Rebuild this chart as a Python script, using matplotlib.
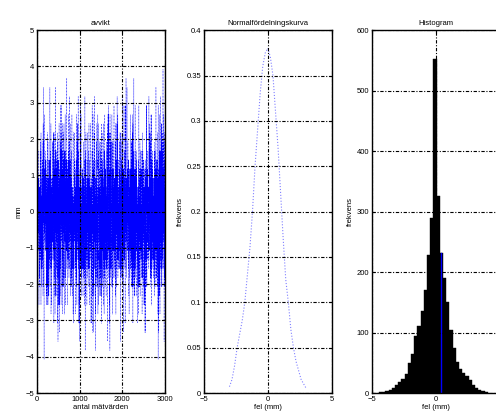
import matplotlib
matplotlib.use("Agg")
from matplotlib import pyplot as plt
import numpy as np

plt.rcParams['font.family'] = ['Liberation Sans', 'DejaVu Sans']

# histogram of the deviations: bin width 0.25, centres at -0.075 + 0.25*k
bin_width = 0.25
bin_centres = [-4.325, -4.075, -3.825, -3.575, -3.325, -3.075, -2.825, -2.575,
               -2.325, -2.075, -1.825, -1.575, -1.325, -1.075, -0.825, -0.575,
               -0.325, -0.075, 0.175, 0.425, 0.675, 0.925, 1.175, 1.425,
               1.675, 1.925, 2.175, 2.425, 2.675, 2.925, 3.175, 3.425,
               3.675, 3.925]
bin_counts = [1, 2, 3, 5, 8, 14, 18, 24,
              32, 50, 65, 95, 110, 135, 170, 228,
              289, 553, 326, 231, 190, 150, 105, 75,
              52, 40, 33, 28, 22, 14, 9, 5,
              3, 1]
marked_bin = 19   # bin drawn with the blue edge

# normal curve, read at 0.2 mm steps
curve_x = [-3.0, -2.8, -2.6, -2.4, -2.2, -2.0, -1.8, -1.6, -1.4, -1.2, -1.0,
           -0.8, -0.6, -0.4, -0.2, 0.0, 0.2, 0.4, 0.6, 0.8, 1.0,
           1.2, 1.4, 1.6, 1.8, 2.0, 2.2, 2.4, 2.6, 2.8, 3.0]
curve_y = [0.007, 0.015, 0.03, 0.05, 0.065, 0.08, 0.10, 0.13, 0.16, 0.20, 0.25,
           0.29, 0.33, 0.36, 0.375, 0.38, 0.37, 0.35, 0.31, 0.27, 0.22,
           0.17, 0.125, 0.10, 0.07, 0.05, 0.035, 0.025, 0.015, 0.01, 0.005]

# the series itself: every histogram value, spread over the measurement order
values = np.repeat(bin_centres, bin_counts)
n = len(values)
idx = np.arange(n)
order = np.argsort((np.sin(idx * 12.9898) * 43758.5453) % 1.0)
series = values[order]

grid_style = dict(color='black', linestyle=(0, (3, 1.5, 1, 1.5)), linewidth=0.8)
fs = 5.5


def style(ax):
    for s in ax.spines.values():
        s.set_linewidth(1.0)
    ax.tick_params(direction='in', length=2.5, width=0.8, labelsize=fs, pad=2,
                   top=True, right=True)
    ax.grid(True, **grid_style)
    ax.set_axisbelow(False)


fig = plt.figure(figsize=(4.96, 4.19), dpi=100)
bottom, height, width = 0.062, 0.866, 0.258

ax1 = fig.add_axes([0.0746, bottom, width, height])
ax1.plot(np.arange(1, n + 1), series, color='blue', linestyle=':', linewidth=0.4)
ax1.set_xlim(0, 3000)
ax1.set_ylim(-5, 5)
ax1.set_xticks([0, 1000, 2000, 3000])
ax1.set_yticks(range(-5, 6))
ax1.set_title('avvikt', fontsize=fs, pad=4)
ax1.set_ylabel('mm', fontsize=fs, labelpad=2)
ax1.set_xlabel('antal mätvärden', fontsize=fs, labelpad=1)
style(ax1)

ax2 = fig.add_axes([0.411, bottom, width, height])
ax2.plot(curve_x, curve_y, color='#8080ff', linestyle=':', linewidth=0.8)
ax2.set_xlim(-5, 5)
ax2.set_ylim(0, 0.4)
ax2.set_xticks([-5, 0, 5])
ax2.set_yticks(np.arange(0, 0.41, 0.05))
ax2.set_yticklabels(['0', '0.05', '0.1', '0.15', '0.2', '0.25', '0.3', '0.35', '0.4'])
ax2.set_title('Normalfördelningskurva', fontsize=fs, pad=4)
ax2.set_ylabel('frekvens', fontsize=fs, labelpad=2)
ax2.set_xlabel('fel (mm)', fontsize=fs, labelpad=1)
style(ax2)

ax3 = fig.add_axes([0.75, bottom, width, height])
ax3.bar(bin_centres, bin_counts, width=bin_width, color='black',
        edgecolor='black', linewidth=0.3)
ax3.plot([bin_centres[marked_bin] - 0.05] * 2, [0, bin_counts[marked_bin]],
         color='blue', linewidth=1.0)
ax3.set_xlim(-5, 5)
ax3.set_ylim(0, 600)
ax3.set_xticks([-5, 0, 5])
ax3.set_yticks(range(0, 601, 100))
ax3.set_title('Histogram', fontsize=fs, pad=4)
ax3.set_ylabel('frekvens', fontsize=fs, labelpad=2)
ax3.set_xlabel('fel (mm)', fontsize=fs, labelpad=1)
style(ax3)

fig.savefig('out.png', dpi=100)
